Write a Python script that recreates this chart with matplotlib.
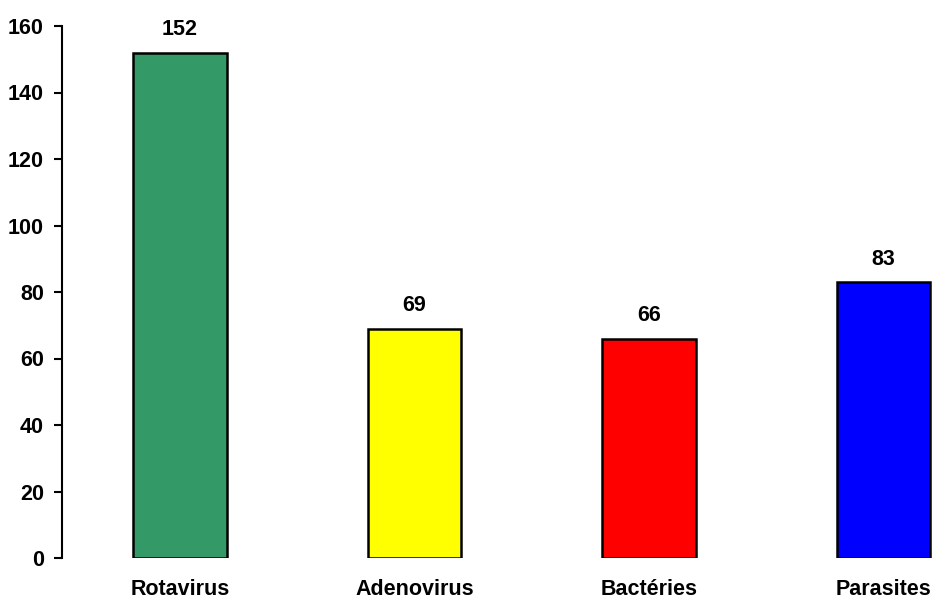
import matplotlib.pyplot as plt

plt.rcParams['font.family'] = ['Liberation Sans', 'DejaVu Sans']
plt.rcParams['font.weight'] = 'bold'

categories = ['Rotavirus', 'Adenovirus', 'Bactéries', 'Parasites']
counts = [152, 69, 66, 83]
colors = ['#339966', '#FFFF00', '#FF0000', '#0000FF']

fig = plt.figure(figsize=(9.34, 5.99), dpi=100)
ax = fig.add_axes([62 / 934, 41 / 599, 1 - 62 / 934, 532 / 599])

x = range(len(categories))
bars = ax.bar(x, counts, width=0.4, color=colors, edgecolor='black', linewidth=1.8)

for b, v in zip(bars, counts):
    ax.annotate(f'{v}', (b.get_x() + b.get_width() / 2, v), xytext=(0, 9),
                textcoords='offset points', ha='center', va='bottom',
                fontsize=15.5, fontweight='bold')

ax.set_xlim(-0.503, 3.215)
ax.set_ylim(0, 160)
ax.set_yticks(range(0, 161, 20))
ax.set_xticks(list(x))
ax.set_xticklabels(categories, fontsize=15.5, fontweight='bold')
ax.tick_params(axis='y', labelsize=15.5, length=6, width=1.5, pad=7)
ax.tick_params(axis='x', length=0, pad=15)

for s in ['top', 'right', 'bottom']:
    ax.spines[s].set_visible(False)
ax.spines['left'].set_linewidth(1.5)

fig.savefig('out.png', dpi=100)
